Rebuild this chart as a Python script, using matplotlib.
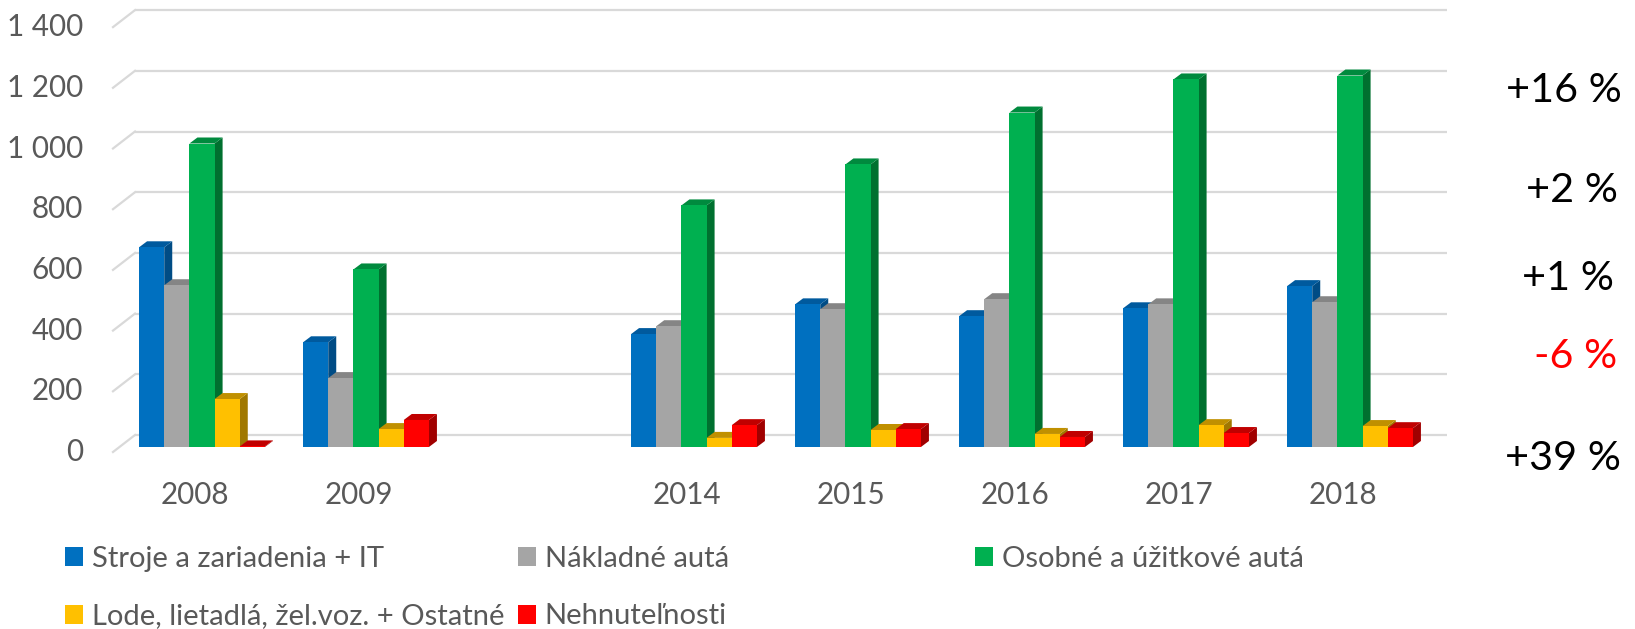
import matplotlib
matplotlib.use("Agg")
import matplotlib.pyplot as plt
from matplotlib.patches import Patch, Polygon
import numpy as np

plt.rcParams['font.family'] = ['Lato', 'DejaVu Sans']

# ---------------- data ----------------
categories = ["2008", "2009", "", "2014", "2015", "2016", "2017", "2018"]
series_names = ["Stroje a zariadenia + IT", "Nákladné autá", "Osobné a úžitkové autá",
                "Lode, lietadlá, žel.voz. + Ostatné", "Nehnuteľnosti"]
stroje = [658, 345, np.nan, 372, 470, 431, 457, 530]
nakladne = [533, 227, np.nan, 398, 454, 487, 470, 477]
osobne = [1000, 585, np.nan, 796, 931, 1102, 1211, 1224]
lode = [158, 59, np.nan, 30, 56, 43, 72, 69]
nehnutelnosti = [2, 89, np.nan, 72, 59, 33, 46, 62]
yticks = [0, 200, 400, 600, 800, 1000, 1200, 1400]
ytick_labels = ["0", "200", "400", "600", "800", "1 000", "1 200", "1 400"]
side_labels = ["+16 %", "+2 %", "+1 %", "-6 %", "+39 %"]
side_colors = ["black", "black", "black", "red", "black"]

front_colors = ["#0070C0", "#A5A5A5", "#00B050", "#FFC000", "#FF0000"]
top_colors = ["#005A9E", "#858585", "#008A3E", "#C09000", "#C00000"]
side_colors_3d = ["#004C85", "#6F6F6F", "#00702F", "#A07800", "#A00000"]

# ---------------- geometry (pixels -> data) ----------------
W, H, DPI = 1635, 629, 100
S = 164.0      # px per category slot
K = 0.3035     # px per value unit
X0 = 120.0     # px left edge of first slot (bar plane)
Y0 = 447.0     # px of zero (bar plane, from top)

fig = plt.figure(figsize=(W / DPI, H / DPI), dpi=DPI)
ax = fig.add_axes([0, 0, 1, 1])
ax.set_xlim(-0.5 - X0 / S, -0.5 + (W - X0) / S)
ax.set_ylim(-(H - Y0) / K, Y0 / K)
ax.axis("off")

DX, DY = 8 / S, 6 / K          # bar depth
WX, WY = 15 / S, 12 / K        # back wall offset
FX, FY = -7 / S, -5 / K        # front plane offset
n = len(categories)
xs = np.arange(n)

grid_col = "#D9D9D9"
tick_fs = 21.3
for v, lab in zip(yticks, ytick_labels):
    ax.plot([-0.5 + WX, n - 0.5 + WX], [v + WY, v + WY], color=grid_col, lw=1.6, zorder=0,
            solid_capstyle="butt")
    ax.plot([-0.5 + FX, -0.5 + WX], [v + FY, v + WY], color=grid_col, lw=1.6, zorder=0)
    ax.text(-0.5 + FX - 30 / S, v + FY, lab, ha="right", va="center",
            fontsize=tick_fs, color="#595959")

for i, c in enumerate(categories):
    if c:
        ax.text(i + FX, -48 / K, c, ha="center", va="center", fontsize=tick_fs, color="#595959")

# ---------------- bars ----------------
all_series = [stroje, nakladne, osobne, lode, nehnutelnosti]
bw = 0.1535
for j, vals in enumerate(all_series):
    vals = np.array(vals, dtype=float)
    pos = xs + (j - 2) * bw
    z = 2 + 3 * j
    for p, h in zip(pos, vals):
        if np.isnan(h):
            continue
        x0, x1 = p - bw / 2, p + bw / 2
        ax.add_patch(Polygon([(x1, 0), (x1 + DX, DY), (x1 + DX, h + DY), (x1, h)],
                             closed=True, facecolor=side_colors_3d[j], edgecolor="none", zorder=z))
        ax.add_patch(Polygon([(x0, h), (x1, h), (x1 + DX, h + DY), (x0 + DX, h + DY)],
                             closed=True, facecolor=top_colors[j], edgecolor="none", zorder=z + 1))
    ax.bar(pos, np.nan_to_num(vals), width=bw, color=front_colors[j], zorder=z + 2,
           linewidth=0)

# ---------------- side annotations ----------------
side_y = [90, 190, 278, 357, 458]
side_x = [1622, 1618, 1614, 1617, 1621]
for lab, col, yy, xx in zip(side_labels, side_colors, side_y, side_x):
    fig.text(xx / W, 1 - yy / H, lab, ha="right", va="center", fontsize=29.8, color=col)

# ---------------- legend ----------------
handles = [Patch(facecolor=c, edgecolor="none") for c in front_colors]
cols = [[0, 3], [1, 4], [2]]
col_x = [65, 518, 975]
fs = 21
for cidx, xpx in zip(cols, col_x):
    leg = fig.legend([handles[k] for k in cidx], [series_names[k] for k in cidx],
                     loc="upper left", bbox_to_anchor=(xpx / W, 1 - 546 / H),
                     frameon=False, fontsize=fs, borderpad=0, borderaxespad=0,
                     handlelength=0.62, handleheight=0.62, handletextpad=0.3,
                     labelspacing=1.08, labelcolor="#595959")

fig.savefig("out.png", dpi=DPI)
